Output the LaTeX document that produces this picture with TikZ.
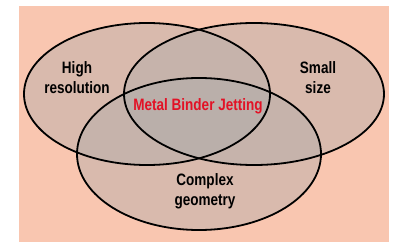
\documentclass[tikz,border=0pt]{standalone}
\usepackage{fontspec}
\setmainfont{Liberation Sans}
\newfontfamily\vennfont[FakeStretch=0.82]{Liberation Sans}

\definecolor{bgsalmon}{RGB}{249,198,176}
\definecolor{setgray}{RGB}{170,170,170}
\definecolor{mbjred}{RGB}{226,18,38}

\begin{document}
\begin{tikzpicture}[x=1pt, y=-1pt,
            % ----- Styles -----
                setfill/.style={fill=setgray, fill opacity=0.4},
                setline/.style={draw=black, line width=1.8pt},
                lbl/.style={
                    font=\vennfont\bfseries\fontsize{16.5}{20}\selectfont,
                    align=center, inner sep=0pt
                },
                core/.style={lbl, text=mbjred}
            ]

% ===================== Rahmen ==================================
                \useasboundingbox (0,0) rectangle (407,249);
                \fill[white] (0,0) rectangle (407,249);
                \fill[bgsalmon] (19,6) rectangle (389,242);

% ===================== Mengen (Ellipsen) =======================
%
%  links: High resolution, rechts: Small size, unten: Complex geometry
%
                \foreach \cx/\cy/\rx/\ry in {147/94/123/71, 254/94/130/71, 199/154/122/76}
                    \fill[setfill] (\cx,\cy) ellipse [x radius=\rx, y radius=\ry];
                \foreach \cx/\cy/\rx/\ry in {147/94/123/71, 254/94/130/71, 199/154/122/76}
                    \draw[setline] (\cx,\cy) ellipse [x radius=\rx, y radius=\ry];

% ===================== Beschriftungen ==========================
                \node[lbl]  (hires)   at (77, 78)   {High\\resolution};
                \node[lbl]  (small)   at (318, 78)  {Small\\size};
                \node[lbl]  (complex) at (205, 191) {Complex\\geometry};
                \node[core] (mbj)     at (198, 106) {Metal Binder Jetting};

            \end{tikzpicture}
\end{document}
